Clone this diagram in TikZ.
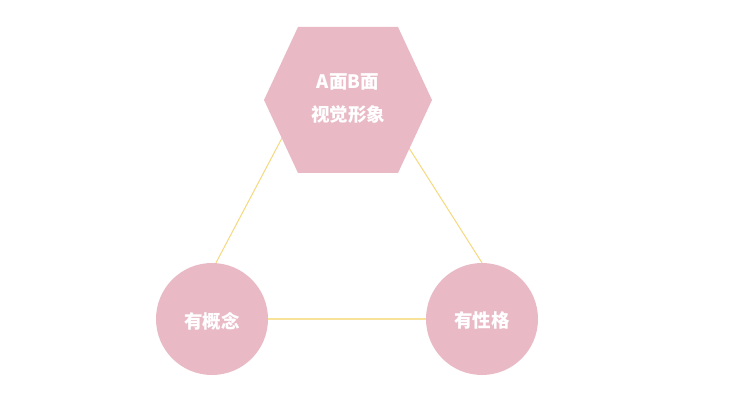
\documentclass[tikz,border=0pt]{standalone}
\usepackage{fontspec}
\setmainfont{Noto Sans CJK SC}
\definecolor{pinkfill}{HTML}{E9BAC6}
\definecolor{linkyellow}{HTML}{F6D97E}
\begin{document}
\begin{tikzpicture}[x=1pt,y=-1pt,
  blob/.style={circle,fill=pinkfill,minimum size=112pt,inner sep=0pt},
  label/.style={text=white,font=\fontsize{18.5}{22}\selectfont\bfseries},
  link/.style={draw=linkyellow,line width=1pt}]
\useasboundingbox (0,0) rectangle (733,403);
\fill[white] (0,0) rectangle (733,403);
% hexagon
\coordinate (h1) at (298,27);
\coordinate (h2) at (398,27);
\coordinate (h3) at (432,100);
\coordinate (h4) at (398,173);
\coordinate (h5) at (298,173);
\coordinate (h6) at (264,100);
\coordinate (hl) at (282,138);
\coordinate (hr) at (409,148);
% circles
\node[blob] (left) at (212,319) {};
\node[blob] (right) at (482,319) {};
% links
\draw[link] (hl) -- (left.86);
\draw[link] (hr) -- (right.90);
\draw[link,line width=1.6pt,draw=linkyellow!80] (left.east) -- (right.west);
\fill[pinkfill] (h1) -- (h2) -- (h3) -- (h4) -- (h5) -- (h6) -- cycle;
\node[label] (t1) at (348,82) {A面B面};
\node[label] (t2) at (348,115) {视觉形象};
\node[label] (t3) at (212,321) {有概念};
\node[label] (t4) at (482,320) {有性格};
\end{tikzpicture}
\end{document}
